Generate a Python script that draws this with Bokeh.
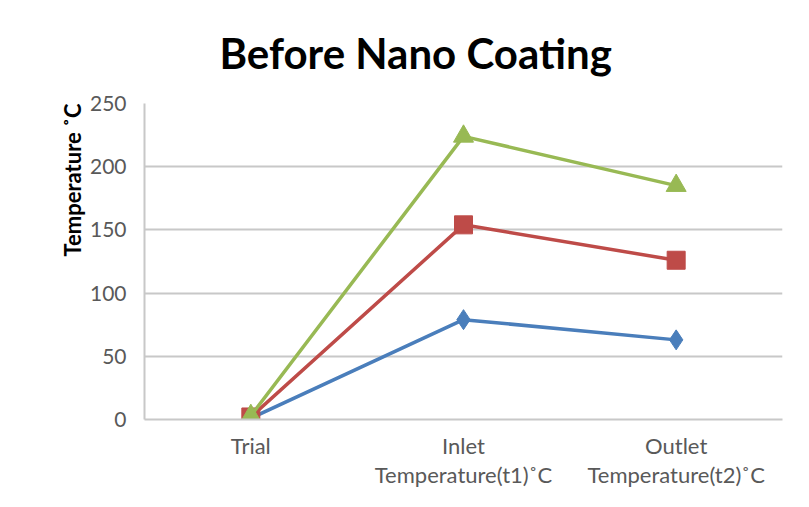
from bokeh.plotting import figure
from bokeh.models import Title, Range1d, FixedTicker
from bokeh.embed import file_html
from bokeh.resources import INLINE

categories = ["Trial", "Inlet\nTemperature(t1)˚C", "Outlet\nTemperature(t2)˚C"]
series1 = [1, 79, 63]      # blue diamonds
series2 = [2, 154, 126]    # red squares
series3 = [3, 224, 185]    # green triangles
y_ticks = [0, 50, 100, 150, 200, 250]

FONT = "Lato"
p = figure(width=793, height=491, x_range=categories, y_range=Range1d(0, 250),
           output_backend="svg", toolbar_location=None,
           min_border_left=144, min_border_right=11, min_border_top=102, min_border_bottom=70)

p.title.text = "Before Nano Coating"
p.title.align = "left"
p.title.offset = 75
p.title.text_font = FONT
p.title.text_font_size = "42px"
p.title.text_font_style = "bold"
p.title.text_color = "#000000"
p.title.standoff = 51

ylab = Title(text="Temperature ˚C", align="right", text_font=FONT, text_font_size="22px",
             text_font_style="bold", text_color="#000000", standoff=2)
p.add_layout(ylab, "left")

p.line(categories, series1, line_color="#4a7ebb", line_width=3.5)
p.scatter(categories, series1, marker="diamond", size=20, fill_color="#4a7ebb", line_color="#4a7ebb")
p.line(categories, series2, line_color="#be4b48", line_width=3.5)
p.scatter(categories, series2, marker="square", size=18, fill_color="#be4b48", line_color="#be4b48")
p.line(categories, series3, line_color="#98b954", line_width=3.5)
p.scatter(categories, series3, marker="triangle", size=20, fill_color="#98b954", line_color="#98b954")

p.yaxis.ticker = FixedTicker(ticks=y_ticks)
p.ygrid.grid_line_color = "#c8c8c8"
p.ygrid.grid_line_width = 2
p.xgrid.grid_line_color = None
p.outline_line_color = None

for ax in (p.xaxis[0], p.yaxis[0]):
    ax.axis_line_color = "#c8c8c8"
    ax.axis_line_width = 2
    ax.major_tick_line_color = None
    ax.minor_tick_line_color = None
    ax.major_label_text_font = FONT
    ax.major_label_text_color = "#595959"
p.yaxis.major_label_text_font_size = "21px"
p.xaxis.major_label_text_font_size = "22px"
p.yaxis.major_label_standoff = 12
p.xaxis.major_label_standoff = 6
p.xaxis.major_label_text_line_height = 1.1

p.border_fill_color = "white"
p.background_fill_color = "white"

open("out.html", "w").write(file_html(p, INLINE))
